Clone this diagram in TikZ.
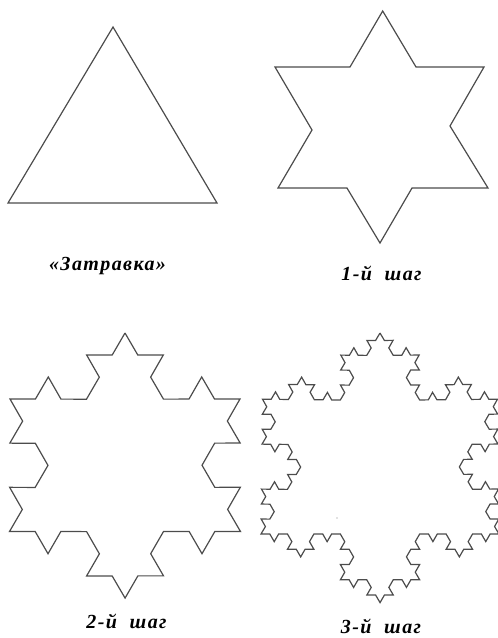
\documentclass[tikz,border=0pt]{standalone}
\usepackage{fontspec}
\setmainfont{Liberation Serif}
\newfontfamily\lblfont[LetterSpace=7]{Liberation Serif Bold Italic}
\usetikzlibrary{decorations.fractals}
\tikzset{
  fractline/.style={draw=black!70, line width=1.2pt},
  lbl/.style={anchor=base, inner sep=0pt, font=\lblfont\fontsize{20}{22}\selectfont}
}
\begin{document}
\begin{tikzpicture}[x=1pt,y=-1pt,decoration=Koch snowflake]
\useasboundingbox (0,0) rectangle (498,638);
% stage 0: triangle
\draw[fractline] (113,27) -- (217,203) -- (8,203) -- cycle;
% stage 1: star
\draw[fractline] (382.7,11) -- (416,67) -- (484,67) -- (450,126) -- (488,188)
  -- (412,188) -- (380,243) -- (347,188) -- (278,188) -- (312,130)
  -- (275,67) -- (350,67) -- cycle;
% stage 2
\draw[fractline] decorate{ decorate{ (125,333) -- (240.5,531.5) -- (9.5,531.5) -- (125,333) }};
% stage 3
\draw[fractline] decorate{ decorate{ decorate{ (380,333) -- (499,534) -- (261,534) -- (380,333) }}};
\fill[black!50] (337,518) circle (0.7);
% labels
\node[lbl] (l0) at (107.5,270.5) {«Затравка»};
\node[lbl] (l1) at (381.5,280.5) {1-й\ \ шаг};
\node[lbl] (l2) at (126.5,628.3) {2-й\ \ шаг};
\node[lbl] (l3) at (381,633) {3-й\ \ шаг};
\end{tikzpicture}
\end{document}
